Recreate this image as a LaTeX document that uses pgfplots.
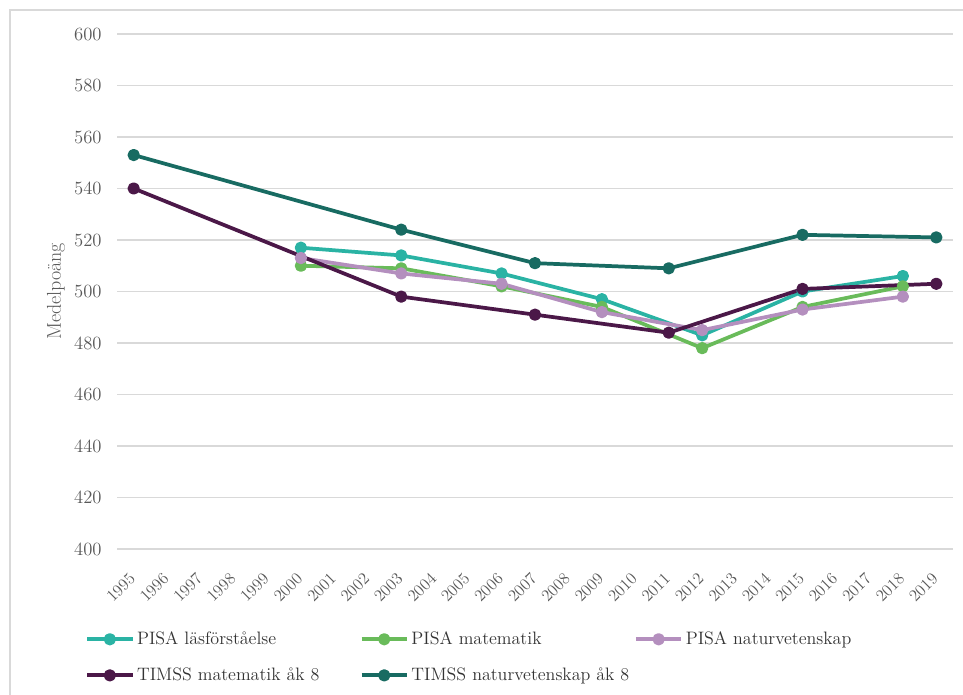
\documentclass[border=0pt]{standalone}
\usepackage{fontspec}
\usepackage{pgfplots}
\pgfplotsset{compat=1.18}
\definecolor{cRead}{HTML}{2AB3A4}
\definecolor{cMat}{HTML}{69BB5A}
\definecolor{cNat}{HTML}{B48FBE}
\definecolor{cTmat}{HTML}{4B1848}
\definecolor{cTnat}{HTML}{186B62}
\definecolor{tickc}{HTML}{595959}
\definecolor{gridc}{HTML}{D9D9D9}
\begin{document}
\begin{tikzpicture}
\path[use as bounding box] (0,0) rectangle (722.25pt,521.25pt);
\draw[gridc, line width=0.9pt] (7.5pt,0) -- (7.5pt,513.75pt) -- (722.25pt,513.75pt);
\begin{axis}[
  at={(87.75pt,109.5pt)}, anchor=south west,
  scale only axis, width=627pt, height=386.25pt,
  xmin=1994.5, xmax=2019.5, ymin=400, ymax=600,
  xtick={1995,1996,...,2019}, ytick={400,420,...,600},
  axis line style={draw=none}, tick style={draw=none},
  ymajorgrids, major grid style={gridc, line width=0.9pt},
  /pgf/number format/assume math mode=true,
  /pgf/number format/1000 sep={},
  xticklabel style={xshift=-4pt, yshift=-15.5pt, rotate=45, anchor=north east, font=\fontsize{12.5}{14}\selectfont, text=tickc, inner sep=1pt},
  yticklabel style={font=\fontsize{14}{16}\selectfont, text=tickc, xshift=-8pt},
  ylabel={Medelpoäng}, ylabel style={font=\fontsize{15}{17}\selectfont\addfontfeatures{LetterSpace=15}, text=tickc, yshift=0pt},
  every axis plot/.append style={line width=2.8pt, line join=round, mark=*, mark size=3.2pt},
  legend columns=3,
  legend cell align=left,
  legend style={draw=none, fill=none, at={(-0.043,-0.15)}, anchor=north west,
    font=\fontsize{13.5}{15}\selectfont, text=black!80,
    /tikz/every even column/.append style={column sep=0pt},
    nodes={inner sep=2pt, text width=165pt, align=left},
    row sep=12pt},
  legend image code/.code={\draw[#1] plot coordinates {(0pt,0pt) (17pt,0pt) (34pt,0pt)};},
  legend image post style={mark repeat=2, mark phase=2, line width=2.8pt},
]
\addplot[color=cRead, mark options={fill=cRead}] coordinates {(2000,517) (2003,514) (2006,507) (2009,497) (2012,483) (2015,500) (2018,506)};
\addlegendentry{PISA läsförståelse}
\addplot[color=cMat, mark options={fill=cMat}] coordinates {(2000,510) (2003,509) (2006,502) (2009,494) (2012,478) (2015,494) (2018,502)};
\addlegendentry{PISA matematik}
\addplot[color=cNat, mark options={fill=cNat}] coordinates {(2000,513) (2003,507) (2006,503) (2009,492) (2012,485) (2015,493) (2018,498)};
\addlegendentry{PISA naturvetenskap}
\addplot[color=cTmat, mark options={fill=cTmat}] coordinates {(1995,540) (2003,498) (2007,491) (2011,484) (2015,501) (2019,503)};
\addlegendentry{TIMSS matematik åk 8}
\addplot[color=cTnat, mark options={fill=cTnat}] coordinates {(1995,553) (2003,524) (2007,511) (2011,509) (2015,522) (2019,521)};
\addlegendentry{TIMSS naturvetenskap åk 8}
\end{axis}
\end{tikzpicture}
\end{document}
